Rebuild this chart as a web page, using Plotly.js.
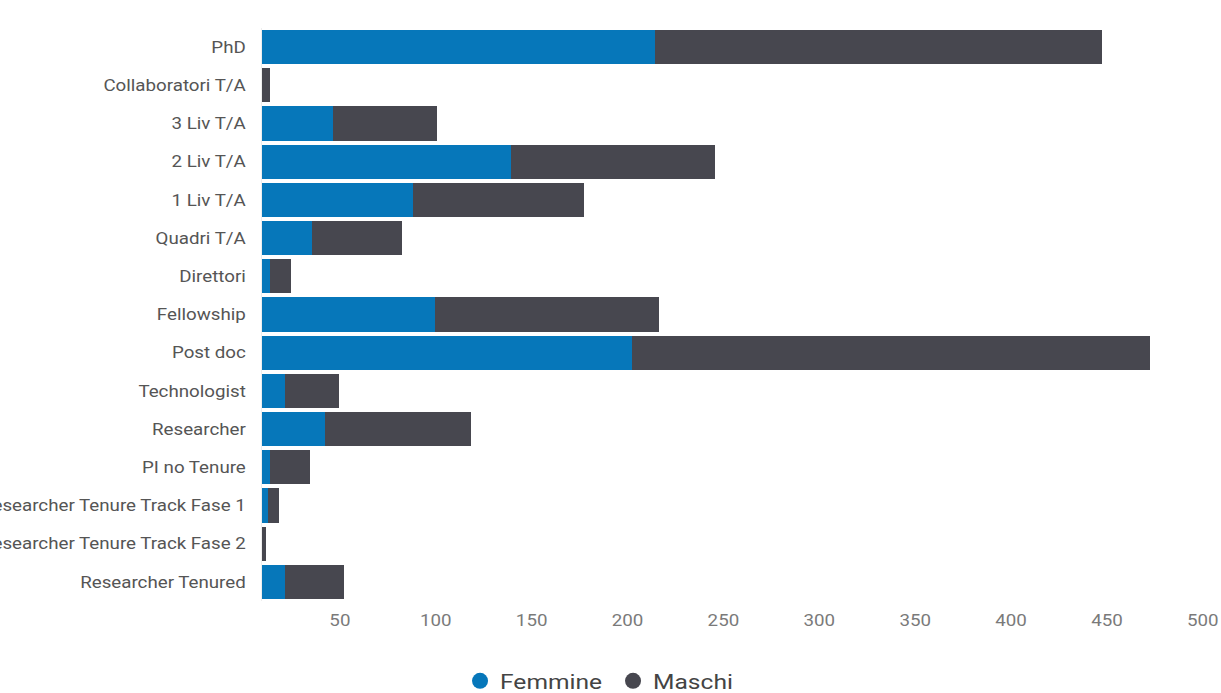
<!DOCTYPE html>
<html>
<head>
<meta charset="utf-8">
<script src="https://cdn.plot.ly/plotly-3.0.1.min.js"></script>
<style>
html,body{margin:0;padding:0;background:#fff;overflow:hidden;}
#chart{width:1221px;height:693px;}
</style>
</head>
<body>
<div id="chart"></div>
<script>
const categories = ["PhD","Collaboratori T/A","3 Liv T/A","2 Liv T/A","1 Liv T/A","Quadri T/A","Direttori","Fellowship","Post doc","Technologist","Researcher","PI no Tenure","Researcher Tenure Track Fase 1","Researcher Tenure Track Fase 2","Researcher Tenured"];
const femmine = [205, 0, 37, 130, 79, 26, 4, 90, 193, 12, 33, 4, 3, 0, 12];
const maschi  = [233, 4, 54, 106, 89, 47, 11, 117, 270, 28, 76, 21, 6, 2, 31];
const xTicks = [50,100,150,200,250,300,350,400,450,500];

const BLUE = "#0677ba";
const GREY = "#47474f";
const STRETCH = 1.17;

const traces = [
  {type:"bar", orientation:"h", name:"Femmine", y:categories, x:femmine,
   marker:{color:BLUE}, showlegend:false, legendgroup:"f", hoverinfo:"x+name"},
  {type:"bar", orientation:"h", name:"Maschi", y:categories, x:maschi,
   marker:{color:GREY}, showlegend:false, legendgroup:"m", hoverinfo:"x+name"},
  {type:"scatter", mode:"markers", name:"Femmine", x:[null], y:[null],
   marker:{color:BLUE, size:22, symbol:"circle"}, legendgroup:"f", showlegend:true},
  {type:"scatter", mode:"markers", name:"Maschi", x:[null], y:[null],
   marker:{color:GREY, size:22, symbol:"circle"}, legendgroup:"m", showlegend:true}
];

const layout = {
  width:1221, height:693,
  margin:{l:262, r:0, t:28, b:92, autoexpand:false},
  paper_bgcolor:"#ffffff", plot_bgcolor:"#ffffff",
  barmode:"stack", bargap:0.1,
  font:{family:"Roboto, sans-serif", color:"#555"},
  xaxis:{range:[0,500.1], tickvals:xTicks, ticktext:xTicks.map(String),
         showgrid:false, zeroline:false, showline:false, ticks:"",
         ticklabelshift:-18, ticklabelstandoff:8, automargin:false,
         tickfont:{family:"Roboto, sans-serif", size:16, color:"#7a7a7a"}},
  yaxis:{type:"category", categoryorder:"array", categoryarray:categories,
         autorange:"reversed", showgrid:false, zeroline:false,
         showline:true, linecolor:"#eeeeee", linewidth:1, ticks:"",
         ticklabelstandoff:12, automargin:false,
         tickfont:{family:"Roboto, sans-serif", size:16, color:"#555"}},
  showlegend:true,
  legend:{orientation:"h", x:0.2065, xanchor:"left", y:-0.14, yanchor:"middle",
          font:{family:"Roboto, sans-serif", size:21, color:"#444"},
          entrywidth:108, entrywidthmode:"pixels",
          itemsizing:"trace", bgcolor:"rgba(0,0,0,0)"}
};

Plotly.newPlot("chart", traces, layout, {displayModeBar:false, staticPlot:true}).then(function(gd){
  const sel = gd.querySelectorAll(".ytick text, .xtick text, .legendtext");
  sel.forEach(function(t){
    const w = t.getComputedTextLength();
    if (w > 0) {
      t.setAttribute("textLength", (w*STRETCH).toFixed(2));
      t.setAttribute("lengthAdjust", "spacingAndGlyphs");
    }
  });
});
</script>
</body>
</html>
